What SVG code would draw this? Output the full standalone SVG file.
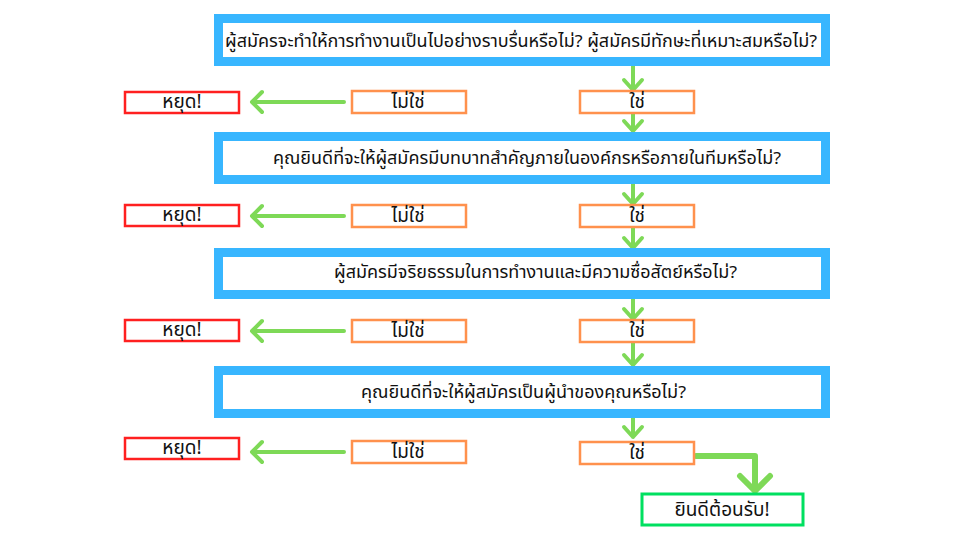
<svg xmlns="http://www.w3.org/2000/svg" width="960" height="540" viewBox="0 0 960 540">
<defs>
<style>
.q{fill:#fff;stroke:#38b6ff;stroke-width:9}
.stop{fill:#fff;stroke:#ff2020;stroke-width:2.5}
.opt{fill:#fff;stroke:#ff914d;stroke-width:2.5}
.ok{fill:#fff;stroke:#00e060;stroke-width:3}
text{font-family:"Noto Sans Thai","Noto Sans","DejaVu Sans",sans-serif;font-weight:400;font-size:19px;fill:#111;text-anchor:middle;dominant-baseline:central}
.t{font-size:17px}
.c{fill:none;stroke:#7ed957;stroke-width:4;stroke-linecap:round;stroke-linejoin:round}
.cb{fill:none;stroke:#7ed957;stroke-width:6;stroke-linecap:round;stroke-linejoin:round}
</style>
</defs>
<g id="connectors">
<path class="c" d="M633 66V90M624 80L633 90L642 80"/>
<path class="c" d="M633 113V131M624 121L633 131L642 121"/>
<path class="c" d="M633 184V204M624 194L633 204L642 194"/>
<path class="c" d="M633 227V248M624 238L633 248L642 238"/>
<path class="c" d="M633 298V319M624 309L633 319L642 309"/>
<path class="c" d="M633 342V365M624 355L633 365L642 355"/>
<path class="c" d="M633 418V437M624 427L633 437L642 427"/>
<path class="c" d="M344 102H252M262 92L252 102L262 112"/>
<path class="c" d="M344 216H252M262 206L252 216L262 226"/>
<path class="c" d="M344 331H252M262 321L252 331L262 341"/>
<path class="c" d="M344 452H252M262 442L252 452L262 462"/>
<path class="cb" d="M696 456H755V491M740 476L755 491L770 476"/>
</g>
<g id="q1"><rect class="q" x="218.5" y="18.5" width="607" height="43"/><text class="t" x="521" y="42" textLength="592" lengthAdjust="spacingAndGlyphs">ผู้สมัครจะทำให้การทำงานเป็นไปอย่างราบรื่นหรือไม่? ผู้สมัครมีทักษะที่เหมาะสมหรือไม่?</text></g>
<g id="q2"><rect class="q" x="218.5" y="136.5" width="607" height="43"/><text class="t" x="527" y="159" textLength="508" lengthAdjust="spacingAndGlyphs">คุณยินดีที่จะให้ผู้สมัครมีบทบาทสำคัญภายในองค์กรหรือภายในทีมหรือไม่?</text></g>
<g id="q3"><rect class="q" x="218.5" y="252.5" width="607" height="42"/><text class="t" x="535.5" y="273" textLength="403" lengthAdjust="spacingAndGlyphs">ผู้สมัครมีจริยธรรมในการทำงานและมีความซื่อสัตย์หรือไม่?</text></g>
<g id="q4"><rect class="q" x="218.5" y="370.5" width="607" height="43"/><text class="t" x="523.5" y="393" textLength="325" lengthAdjust="spacingAndGlyphs">คุณยินดีที่จะให้ผู้สมัครเป็นผู้นำของคุณหรือไม่?</text></g>
<g id="stop1"><rect class="stop" x="125" y="92" width="114" height="21"/><text x="182" y="102">หยุด!</text></g>
<g id="no1"><rect class="opt" x="352" y="91" width="114" height="22"/><text x="408" y="102">ไม่ใช่</text></g>
<g id="yes1"><rect class="opt" x="580" y="91" width="114" height="22"/><text x="637" y="102">ใช่</text></g>
<g id="stop2"><rect class="stop" x="125" y="205" width="114" height="21"/><text x="182" y="215">หยุด!</text></g>
<g id="no2"><rect class="opt" x="352" y="205" width="114" height="22"/><text x="408" y="216">ไม่ใช่</text></g>
<g id="yes2"><rect class="opt" x="580" y="205" width="114" height="22"/><text x="637" y="216">ใช่</text></g>
<g id="stop3"><rect class="stop" x="125" y="320" width="114" height="21"/><text x="182" y="330">หยุด!</text></g>
<g id="no3"><rect class="opt" x="352" y="320" width="114" height="22"/><text x="408" y="331">ไม่ใช่</text></g>
<g id="yes3"><rect class="opt" x="580" y="320" width="114" height="22"/><text x="637" y="331">ใช่</text></g>
<g id="stop4"><rect class="stop" x="125" y="438" width="114" height="21"/><text x="182" y="448">หยุด!</text></g>
<g id="no4"><rect class="opt" x="352" y="441" width="114" height="22"/><text x="408" y="452">ไม่ใช่</text></g>
<g id="yes4"><rect class="opt" x="580" y="442" width="114" height="22"/><text x="637" y="453">ใช่</text></g>
<g id="welcome"><rect class="ok" x="642" y="494" width="161" height="31"/><text x="722" y="510">ยินดีต้อนรับ!</text></g>
</svg>
